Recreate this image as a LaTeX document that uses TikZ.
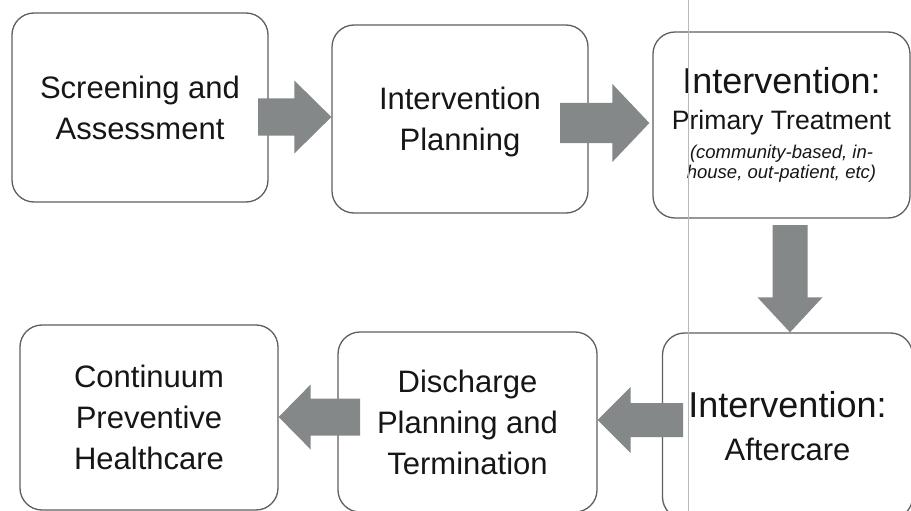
\documentclass[tikz,border=0pt]{standalone}
\usepackage{fontspec}
\setmainfont{Liberation Sans}
\usetikzlibrary{calc}
\definecolor{arrowgray}{RGB}{132,136,136}
\definecolor{boxline}{RGB}{95,95,95}
\definecolor{inkcol}{RGB}{22,22,22}
\definecolor{scanline}{RGB}{185,185,185}
\tikzset{
  stagebox/.style={draw=boxline, line width=1.3pt, rounded corners=22pt, fill=white,
    align=center, text=inkcol, inner sep=0pt, font=\fontsize{31}{41}\selectfont},
  arrowfill/.style={fill=arrowgray},
}
\newcommand\blockarrow[5]{% #1 tail, #2 tip, #3 shaft half, #4 head half, #5 head length
  \coordinate (ba-b) at ($(#2)!#5!(#1)$);
  \fill[arrowfill] ($(#1)!#3!90:(#2)$) -- ($(ba-b)!#3!90:(#2)$) -- ($(ba-b)!#4!90:(#2)$)
    -- (#2) -- ($(ba-b)!#4!-90:(#2)$) -- ($(ba-b)!#3!-90:(#2)$) -- ($(#1)!#3!-90:(#2)$) -- cycle;}
\begin{document}
\begin{tikzpicture}[x=1pt, y=-1pt]
\path[use as bounding box, fill=white] (0,0) rectangle (911,511);
\clip (0,0) rectangle (911,511);

% stages
\node[stagebox, minimum width=256pt, minimum height=189pt] (b1) at (140,107.5)
  {Screening and\\Assessment};
\node[stagebox, minimum width=256pt, minimum height=188pt, text depth=0pt] (b2) at (460,119)
  {Intervention\\Planning};
\node[stagebox, minimum width=257pt, minimum height=186pt, font=\fontsize{20}{20}\selectfont] (b3) at (781.5,125)
  {{\fontsize{36}{36}\selectfont Intervention:}\\[16pt]
   {\fontsize{26.6}{27}\selectfont Primary Treatment}\\[9pt]
   {\itshape\fontsize{18.5}{20}\selectfont (community-based, in-}\\
   {\itshape\fontsize{18.5}{20}\selectfont house, out-patient, etc)}};
\node[stagebox, minimum width=250pt, minimum height=186pt, font=\fontsize{31}{43}\selectfont] (b6) at (787.5,426)
  {{\fontsize{36}{36}\selectfont Intervention:}\\
   Aftercare};
\node[stagebox, minimum width=259pt, minimum height=180pt] (b5) at (467.5,422)
  {Discharge\\Planning and\\Termination};
\node[stagebox, minimum width=258pt, minimum height=185pt] (b4) at (149,417.5)
  {Continuum\\Preventive\\Healthcare};

% connector end points
\coordinate (a1t) at (258,117);
\coordinate (a1h) at (b2.west |- a1t);
\coordinate (a2t) at (560,123);
\coordinate (a2h) at ([xshift=-3pt]b3.west |- a2t);
\coordinate (a3t) at (790,225);
\coordinate (a3h) at (a3t |- b6.north);
\coordinate (a4t) at (683,420);
\coordinate (a4h) at (b5.east |- a4t);
\coordinate (a5t) at (360,417);
\coordinate (a5h) at (b4.east |- a5t);

\blockarrow{a1t}{a1h}{18.5pt}{36.5pt}{37pt}
\blockarrow{a2t}{a2h}{20pt}{39pt}{37pt}
\blockarrow{a3t}{a3h}{17.5pt}{32.5pt}{35pt}
\blockarrow{a4t}{a4h}{17pt}{33pt}{33pt}
\blockarrow{a5t}{a5h}{18.5pt}{32.5pt}{32pt}

% faint scan line
\draw[scanline, line width=0.7pt] (688,0) -- (688,511);
\end{tikzpicture}
\end{document}
